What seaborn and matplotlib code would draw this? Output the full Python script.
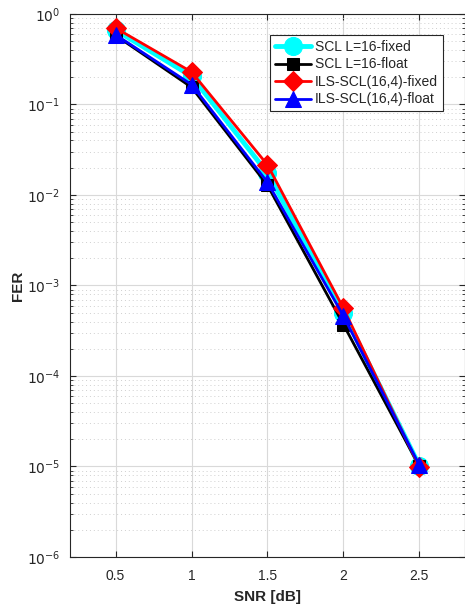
import numpy as np
import pandas as pd
import matplotlib
matplotlib.use('Agg')
import matplotlib.pyplot as plt
import seaborn as sns
from matplotlib.ticker import FixedLocator, NullFormatter

snr = [0.5, 1.0, 1.5, 2.0, 2.5]
scl_fixed = [0.665, 0.205, 0.0175, 5.0e-4, 1.02e-5]
scl_float = [0.58, 0.155, 0.0128, 3.7e-4, 1.0e-5]
ils_fixed = [0.70, 0.229, 0.0215, 5.6e-4, 0.98e-5]
ils_float = [0.59, 0.166, 0.0138, 4.6e-4, 1.03e-5]

labels = ["SCL L=16-fixed", "SCL L=16-float", "ILS-SCL(16,4)-fixed", "ILS-SCL(16,4)-float"]
colors = ["#00FFFF", "#000000", "#FF0000", "#0000FF"]
markers = ["o", "s", "D", "^"]
msizes = [13, 8, 10, 11]
lwidths = [3.5, 2, 2, 2]

sns.set_style("ticks")
plt.rcParams['font.family'] = ['Liberation Sans', 'DejaVu Sans']

fig = plt.figure(figsize=(4.65, 6.08), dpi=100)
ax = fig.add_axes([0.1505, 0.0839, 0.8495, 0.8931])

for vals, lab, c, m, ms, lw in zip([scl_fixed, scl_float, ils_fixed, ils_float],
                                    labels, colors, markers, msizes, lwidths):
    sns.lineplot(x=snr, y=vals, ax=ax, color=c, marker=m, markersize=ms,
                 linewidth=lw, markeredgecolor=c, label=lab)

ax.set_yscale("log")
ax.set_xlim(0.2, 2.8)
ax.set_ylim(1e-6, 1)
ax.set_xticks([0.5, 1, 1.5, 2, 2.5])
ax.set_xticklabels(["0.5", "1", "1.5", "2", "2.5"])
decades = [10.0 ** e for e in range(-6, 1)]
ax.set_yticks(decades)
ax.set_yticklabels([f"$10^{{{e}}}$" for e in range(-6, 1)])
minor = [m * d for d in decades[:-1] for m in range(2, 10)]
ax.yaxis.set_minor_locator(FixedLocator(minor))
ax.yaxis.set_minor_formatter(NullFormatter())

ax.grid(True, which="major", color="#d9d9d9", linewidth=0.8)
ax.grid(True, which="minor", axis="y", color="#cfcfcf", linestyle=(0, (1, 3)), linewidth=0.7)
ax.set_axisbelow(True)

ax.tick_params(which="both", direction="in", top=True, right=True, labelsize=10, colors="#262626")
ax.tick_params(which="major", length=4)
ax.tick_params(which="minor", length=2)
ax.tick_params(axis="x", which="major", pad=9)
ax.tick_params(axis="y", which="major", pad=7)
for s in ax.spines.values():
    s.set_color("#262626")
    s.set_linewidth(0.8)

ax.set_xlabel("SNR [dB]", fontsize=11, fontweight="bold", color="#262626", labelpad=5)
ax.set_ylabel("FER", fontsize=11, fontweight="bold", color="#262626", labelpad=1)

leg = ax.legend(loc="upper right", bbox_to_anchor=(0.944, 0.961), fontsize=10,
                frameon=True, fancybox=False, edgecolor="#262626", framealpha=1,
                handlelength=2.6, borderpad=0.35, labelspacing=0.25, handletextpad=0.3,
                borderaxespad=0.0)
leg.get_frame().set_linewidth(0.8)

fig.savefig("out.png", dpi=100)
